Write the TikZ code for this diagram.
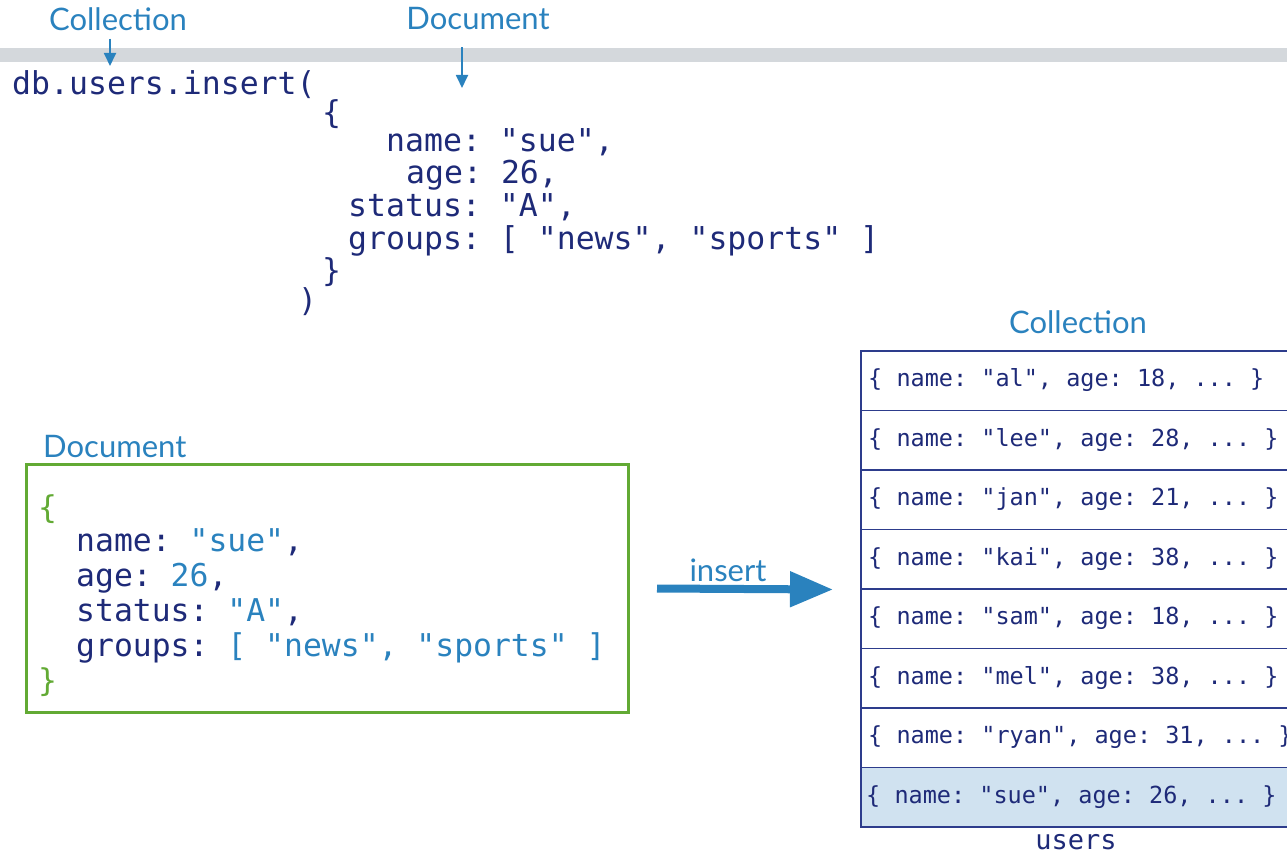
\documentclass[tikz,border=0pt]{standalone}
\usepackage{fontspec}
\setmainfont{Lato}
\setmonofont{DejaVu Sans Mono}
\usetikzlibrary{arrows.meta,positioning}

\definecolor{navy}{RGB}{30,42,120}
\definecolor{mblue}{RGB}{42,130,190}
\definecolor{mgreen}{RGB}{98,170,52}
\definecolor{barg}{RGB}{212,216,220}
\definecolor{rowfill}{RGB}{208,226,240}
\definecolor{tline}{RGB}{45,60,140}

\tikzset{
  code/.style={anchor=base west,inner sep=0pt,text=navy,font=\ttfamily\fontsize{31.5}{36}\selectfont},
  doccode/.style={code,font=\ttfamily\fontsize{31.4}{36}\selectfont},
  lbl/.style={text=mblue,inner sep=0pt,font=\fontsize{31}{36}\selectfont},
  rowbox/.style={draw=tline,line width=1.5pt,anchor=north west,minimum height=59.5pt,minimum width=480pt},
  rowtxt/.style={anchor=west,inner sep=0pt,text=navy,font=\ttfamily\fontsize{23.5}{28}\selectfont},
  pointer/.style={mblue,line width=1.8pt,-{Triangle[length=13pt,width=12pt]}}
}

\begin{document}
\begin{tikzpicture}[x=1pt,y=-1pt]
      \useasboundingbox (0,0) rectangle (1287,856) ;
      \clip (0,0) rectangle (1287,856) ;
      \fill[barg] (0,48) rectangle (1287,62) ;
      \node[lbl] (collhd) at (118,19) {Collection} ;
      \node[lbl] (dochd) at (478,19) {Document} ;
      \coordinate (collpt) at (110,66) ;
      \coordinate (docpt) at (462,88) ;
      \draw[pointer] ([xshift=-8pt,yshift=-8pt]collhd.south) -- (collpt) ;
      \draw[pointer] ([xshift=-16pt,yshift=-17pt]dochd.south) -- (docpt) ;
      \node[code] (cdb) at (12,95) {db.users.insert(} ;
      \node[code] (cob) at (322,124) {\{} ;
      \node[code] (cname) at (386,151) {name: "sue",} ;
      \node[code] (cage) at (406,183) {age: 26,} ;
      \node[code] (cstat) at (348,216) {status: "A",} ;
      \node[code] (cgrp) at (348,249) {groups: [ "news", "sports" ]} ;
      \node[code] (ccb) at (322,281) {\}} ;
      \node[code] (cpar) at (298,311) {)} ;

      \node[draw=mgreen,line width=3pt,anchor=north west,minimum width=602pt,%
        minimum height=248pt] (docbox) at (25,463) {} ;
      \node[lbl,anchor=base west] (doclbl) at (43,457) {Document} ;
      \node[doccode] (dob) at (38,518) {\textcolor{mgreen}{\{}} ;
      \node[doccode] (dname) at (76,551) {name: \textcolor{mblue}{"sue"},} ;
      \node[doccode] (dage) at (76,586) {age: \textcolor{mblue}{26},} ;
      \node[doccode] (dstat) at (76,621) {status: \textcolor{mblue}{"A"},} ;
      \node[doccode] (dgrp) at (76,656) {groups: \textcolor{mblue}{[ "news", "sports" ]}} ;
      \node[doccode] (dcb) at (38,691) {\textcolor{mgreen}{\}}} ;

      \node[lbl] (collname) at (1078,322) {Collection} ;
      \foreach \nm/\ag [count=\i from 0] in {al/18,lee/28,jan/21,kai/38,sam/18,mel/38,ryan/31} {
        \node[rowbox] (row\i) at (860,350+59.5*\i) {} ;
        \node[rowtxt] (txt\i) at ([xshift=8pt]row\i.west) {\{ name: "\nm", age: \ag, ... \}} ;
      }
      \node[rowbox,fill=rowfill] (row7) at (860,766.5) {} ;
      \node[rowtxt] (txt7) at ([xshift=6pt]row7.west) {\{ name: "sue", age: 26, ... \}} ;
      \node[code,anchor=center,font=\ttfamily\fontsize{27}{32}\selectfont] (users) at (1076,842) {users} ;

      \node[lbl] (inslbl) at (728,570) {insert} ;
      \draw[mblue,line width=8pt,-{Triangle[length=43pt,width=34pt]}] %
        ([xshift=27pt]docbox.east) -- ([xshift=-27pt]row3.south west) ;
\end{tikzpicture}
\end{document}
